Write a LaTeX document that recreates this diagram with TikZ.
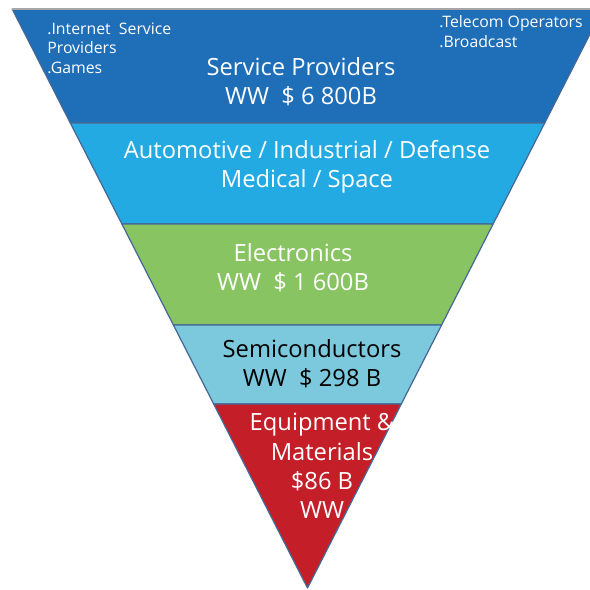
\documentclass[tikz,border=0pt]{standalone}
\usepackage{fontspec}
\setmainfont{Open Sans}
\usepackage{xcolor}
\usepackage{tikz}
\usetikzlibrary{calc}
\definecolor{providerblue}{RGB}{30,110,184}
\definecolor{marketblue}{RGB}{36,170,226}
\definecolor{electrogreen}{RGB}{136,196,98}
\definecolor{semicyan}{RGB}{124,200,220}
\definecolor{equipred}{RGB}{196,30,40}
\definecolor{edgeblue}{RGB}{70,104,150}
\tikzset{
  layer/.style={fill=#1, draw=edgeblue, line width=0.7pt, line join=round},
  big/.style={font=\fontsize{13.5}{16.6}\selectfont, align=center, text=white, inner sep=0pt},
  small/.style={font=\fontsize{9}{11}\selectfont, align=left, text=white, inner sep=0pt, anchor=north west},
}

\begin{document}
\begin{tikzpicture}[x=0.02cm, y=-0.02cm]
        \useasboundingbox (0,0) rectangle (590,589);
        \clip (0,0) rectangle (590,589);

        % Corners of the funnel
        \coordinate (tl) at (12.2,9);
        \coordinate (tr) at (602.8,9);
        \coordinate (apex) at (307.5,588);

        % Layers, top to bottom
        \filldraw[layer=providerblue] (tl) -- (tr) -- (544.7,123) -- (70.3,123) -- cycle;
        \filldraw[layer=marketblue]   (70.3,123) -- (544.7,123) -- (493.1,224) -- (121.9,224) -- cycle;
        \filldraw[layer=electrogreen] (121.9,224) -- (493.1,224) -- (441.6,325) -- (173.4,325) -- cycle;
        \filldraw[layer=semicyan]     (173.4,325) -- (441.6,325) -- (401.3,404) -- (213.7,404) -- cycle;
        \filldraw[layer=equipred]     (213.7,404) -- (401.3,404) -- (apex) -- cycle;
        \draw[gray!70, line width=0.9pt] (tl) -- (tr);

        % Labels
        \node[big] (providers) at (301,82) {Service Providers\\WW~~\$ 6 800B};
        \node[small] (isp) at (47,22.5) {.Internet~~Service\\Providers\\.Games};
        \node[small] (telecom) at (439,15.5) {.Telecom Operators\\.Broadcast};
        \node[big] (markets) at (307,167) {Automotive / Industrial / Defense\\Medical / Space};
        \node[big] (electronics) at (293,268) {Electronics\\WW~~\$ 1 600B};
        \node[big, text=black] (semis) at (312,364) {Semiconductors\\WW~~\$ 298 B};
        \node[big] (equipment) at (322,466) {Equipment \&\\Materials\\\$86 B\\WW};
\end{tikzpicture}
\end{document}
